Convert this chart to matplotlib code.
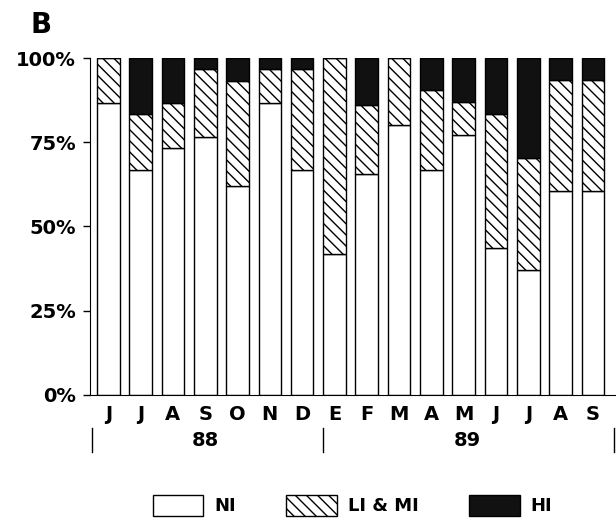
import matplotlib
matplotlib.use("Agg")
from matplotlib import pyplot as plt
from matplotlib.patches import Patch
import matplotlib.transforms as mtransforms
import numpy as np

months = ["J", "J", "A", "S", "O", "N", "D", "E", "F", "M", "A", "M", "J", "J", "A", "S"]
ni = [86.7, 66.7, 73.3, 76.7, 62.1, 86.7, 66.7, 41.7, 65.5, 80.0, 66.7, 77.1, 43.5, 37.1, 60.4, 60.4]
li_mi = [13.3, 16.7, 13.3, 20.0, 31.0, 10.0, 30.0, 58.3, 20.7, 20.0, 23.8, 9.8, 40.0, 33.2, 33.0, 33.0]
hi = [0.0, 16.6, 13.4, 3.3, 6.9, 3.3, 3.3, 0.0, 13.8, 0.0, 9.5, 13.1, 16.5, 29.7, 6.6, 6.6]
years = ["88", "89"]

plt.rcParams["font.family"] = ["DejaVu Sans"]
plt.rcParams["font.weight"] = "bold"
plt.rcParams["hatch.linewidth"] = 1.0

fig = plt.figure(figsize=(6.16, 5.23), dpi=100)
ax = fig.add_axes([0.146, 0.245, 0.852, 0.644])

x = np.arange(len(months))
ni = np.array(ni)
li_mi = np.array(li_mi)
hi = np.array(hi)
w = 0.7
ax.bar(x, ni, w, color="white", edgecolor="black", linewidth=1.0)
ax.bar(x, li_mi, w, bottom=ni, color="white", edgecolor="black", linewidth=1.0, hatch="\\\\\\")
ax.bar(x, hi, w, bottom=ni + li_mi, color="#111111", edgecolor="black", linewidth=1.0)

ax.set_xlim(-0.57, 15.68)
ax.set_ylim(0, 100)
ax.set_yticks([0, 25, 50, 75, 100])
ax.set_yticklabels(["0%", "25%", "50%", "75%", "100%"], fontsize=14)
ax.tick_params(axis="y", direction="out", length=5, width=1, pad=5)
ax.set_xticks(x)
ax.set_xticklabels(months, fontsize=14)
ax.tick_params(axis="x", length=0, pad=7)
ax.spines["top"].set_visible(False)
ax.spines["right"].set_visible(False)

# year labels and separators under the month labels
trans = mtransforms.blended_transform_factory(ax.transData, ax.transAxes)
for xs in [-0.52, 6.64, 15.65]:
    ax.plot([xs, xs], [-0.098, -0.17], color="black", lw=1, transform=trans, clip_on=False)
ax.text(3.0, -0.135, years[0], transform=trans, ha="center", va="center", fontsize=14)
ax.text(11.1, -0.135, years[1], transform=trans, ha="center", va="center", fontsize=14)

fig.text(0.05, 0.952, "B", fontsize=20, ha="left", va="center")

handles = [
    Patch(facecolor="white", edgecolor="black", label="NI"),
    Patch(facecolor="white", edgecolor="black", hatch="\\\\\\", label="LI & MI"),
    Patch(facecolor="#111111", edgecolor="black", label="HI"),
]
fig.legend(handles=handles, loc="center", bbox_to_anchor=(0.572, 0.034), ncol=3,
           frameon=False, fontsize=13, handlelength=2.8, handleheight=1.4,
           columnspacing=2.8, handletextpad=0.6)

fig.savefig("out.png", dpi=100)
